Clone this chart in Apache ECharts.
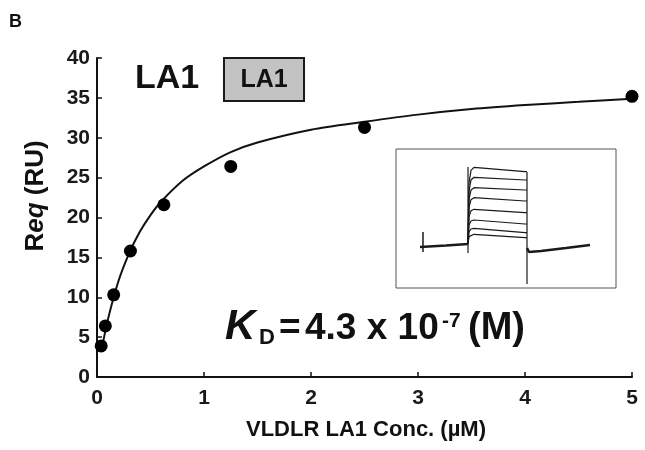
<!DOCTYPE html>
<html>
<head>
<meta charset="UTF-8">
<title>VLDLR LA1 binding</title>
<script src="https://cdn.jsdelivr.net/npm/echarts@6/dist/echarts.min.js"></script>
<style>
  html, body { margin: 0; padding: 0; background: #fff; }
  #container { width: 645px; height: 450px; }
</style>
</head>
<body>
<div id="container"></div>
<script>
// measured points (uM, RU)
var concs = [0.039, 0.078, 0.156, 0.3125, 0.625, 1.25, 2.5, 5.0];
var reqValues = [3.9, 6.4, 10.3, 15.8, 21.6, 26.4, 31.3, 35.2];

// fitted curve
var fitX = [0.04, 0.1, 0.2, 0.3, 0.4, 0.5, 0.6, 0.8, 1.0, 1.25, 1.5, 2.0, 2.5, 3.0, 3.5, 4.0, 4.5, 5.0];
var fitY = [3.2, 7.1, 12.0, 15.5, 18.2, 20.3, 22.0, 24.6, 26.4, 28.2, 29.4, 31.0, 32.0, 32.9, 33.6, 34.1, 34.5, 34.9];

var xTicks = [0, 1, 2, 3, 4, 5];
var yTicks = [0, 5, 10, 15, 20, 25, 30, 35, 40];

// inset sensorgram (time units, response units relative to baseline)
var injStart = 72, injEnd = 131;
var startLevels = [78.7, 68.7, 58.3, 48.3, 36.7, 26.0, 17.7, 11.7];
var endLevels = [74.3, 66.0, 56.0, 45.0, 33.3, 22.0, 13.3, 8.3];
var baseBefore = [[24, -1], [50, 0.5], [72, 2]];
var baseAfter = [[131, -2], [133, -6], [145, -5], [170, -2], [194, 1]];
var spikePre = [[27, -6], [27, 14]];
var spikeInj = [[72, -7], [72, 79]];
var spikeEnd = [[131, 74], [131, -38]];

var font = 'Liberation Sans, Arial, sans-serif';

var dom = document.getElementById('container');
var myChart = echarts.init(dom, null, { renderer: 'canvas' });

var series = [
    {
        name: 'fit',
        type: 'line',
        data: fitX.map(function (x, i) { return [x, fitY[i]]; }),
        smooth: 0.3,
        showSymbol: false,
        lineStyle: { color: '#111', width: 2 },
        z: 2
    },
    {
        name: 'Req',
        type: 'scatter',
        data: concs.map(function (x, i) { return [x, reqValues[i]]; }),
        symbol: 'circle',
        symbolSize: 13,
        itemStyle: { color: '#000', opacity: 1 },
        z: 3
    }
];

// inset traces
function insetLine(data, w) {
    return {
        type: 'line',
        xAxisIndex: 1,
        yAxisIndex: 1,
        data: data,
        showSymbol: false,
        silent: true,
        lineStyle: { color: '#1a1a1a', width: w }
    };
}
for (var i = 0; i < startLevels.length; i++) {
    var L = startLevels[i], E = endLevels[i];
    series.push(insetLine([
        [injStart, 2], [injStart + 1, L * 0.8], [injStart + 3, L * 0.96],
        [injStart + 6, L], [injEnd - 2, E], [injEnd, E]
    ], 1.2));
}
series.push(insetLine(baseBefore, 2.6));
series.push(insetLine(baseAfter, 2.6));
series.push(insetLine(spikePre, 1.5));
series.push(insetLine(spikeInj, 1.2));
series.push(insetLine(spikeEnd, 1.2));

function label(x, y, text, size, extra) {
    var st = { text: text, font: (extra || 'bold') + ' ' + size + 'px ' + font, fill: '#111',
               align: 'left', verticalAlign: 'middle' };
    return { type: 'text', x: x, y: y, style: st };
}

var option = {
    animation: false,
    backgroundColor: '#fff',
    grid: [
        { left: 97, right: 13, top: 58, bottom: 73 },
        { left: 396, top: 149, width: 220, height: 139, show: true,
          borderColor: '#555', borderWidth: 1, backgroundColor: 'transparent' }
    ],
    xAxis: [
        {
            type: 'value', min: 0, max: 5, interval: 1,
            axisLine: { lineStyle: { color: '#111', width: 2 } },
            axisTick: { inside: true, length: 5, lineStyle: { color: '#111', width: 1.5 } },
            splitLine: { show: false },
            axisLabel: {
                margin: 11, color: '#1a1a1a', fontFamily: font, fontWeight: 'bold', fontSize: 21,
                formatter: function (v) { return xTicks.indexOf(v) >= 0 ? String(v) : ''; }
            }
        },
        { type: 'value', gridIndex: 1, min: 0, max: 220, show: false }
    ],
    yAxis: [
        {
            type: 'value', min: 0, max: 40, interval: 5,
            axisLine: { show: true, lineStyle: { color: '#111', width: 2 } },
            axisTick: { show: true, inside: true, length: 5, lineStyle: { color: '#111', width: 1.5 } },
            splitLine: { show: false },
            axisLabel: {
                margin: 7, color: '#1a1a1a', fontFamily: font, fontWeight: 'bold', fontSize: 21,
                formatter: function (v) { return yTicks.indexOf(v) >= 0 ? String(v) : ''; }
            }
        },
        { type: 'value', gridIndex: 1, min: -42, max: 97, show: false }
    ],
    series: series,
    graphic: [
        label(9, 22, 'B', 18),
        label(135, 79, 'LA1', 34),
        { type: 'rect', shape: { x: 224, y: 58, width: 80, height: 43 },
          style: { fill: '#c3c3c3', stroke: '#1a1a1a', lineWidth: 2 } },
        { type: 'text', x: 264, y: 80,
          style: { text: 'LA1', font: 'bold 25px ' + font, fill: '#111', align: 'center', verticalAlign: 'middle' } },
        // y axis title
        { type: 'text', x: 36, y: 196, rotation: Math.PI / 2,
          style: {
              text: '{r|R}{i|eq}{r| (RU)}', align: 'center', verticalAlign: 'middle',
              rich: {
                  r: { font: 'bold 26px ' + font, fill: '#111' },
                  i: { font: 'italic bold 26px ' + font, fill: '#111' }
              }
          } },
        // x axis title
        { type: 'text', x: 366, y: 430,
          style: { text: 'VLDLR LA1 Conc. (\u00b5M)', font: 'bold 22px ' + font, fill: '#111',
                   align: 'center', verticalAlign: 'middle' } },
        // KD annotation
        label(225, 327, 'K', 42, 'italic bold'),
        label(259, 338, 'D', 22),
        label(279, 329, '=', 37),
        label(305, 329, '4.3 x 10', 37),
        label(442, 321, '-7', 21),
        label(468, 329, '(M)', 38)
    ]
};

myChart.setOption(option, true);
</script>
</body>
</html>
